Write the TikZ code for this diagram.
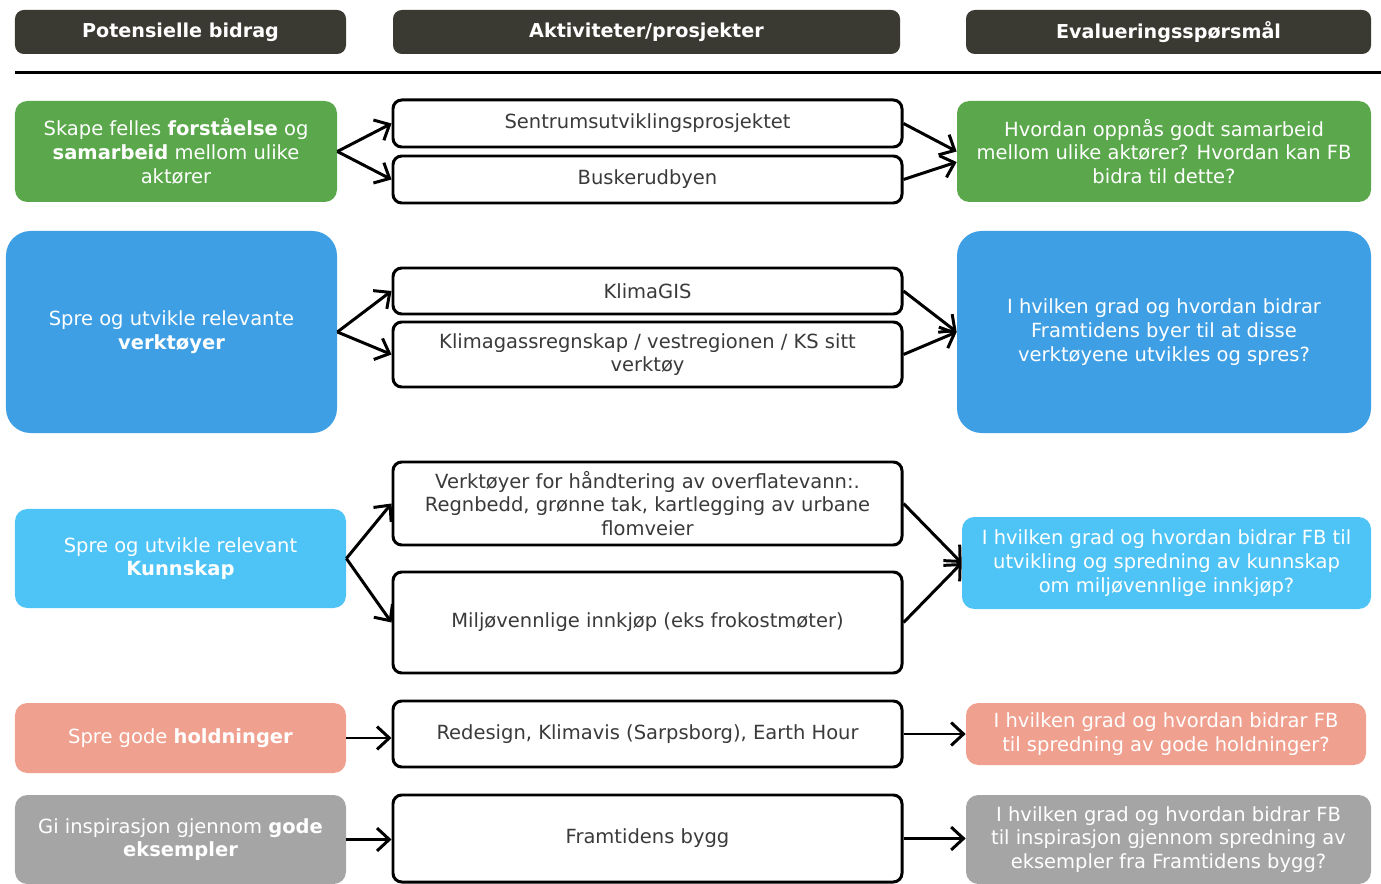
\documentclass[tikz,border=0pt]{standalone}
\usepackage{fontspec}
\setmainfont{DejaVu Sans}
\usetikzlibrary{arrows.meta}
\definecolor{hdr}{HTML}{3B3A32}
\definecolor{cgreen}{HTML}{5AA84B}
\definecolor{cblue}{HTML}{3E9FE4}
\definecolor{clblue}{HTML}{4EC3F6}
\definecolor{csalmon}{HTML}{F0A08F}
\definecolor{cgray}{HTML}{A5A5A5}
\definecolor{mtext}{HTML}{3A3A3A}
\newcommand\bx[7]{%
  \pgfmathsetmacro\bxcx{(#2+#4)/2}\pgfmathsetmacro\bxcy{(#3+#5)/2}%
  \pgfmathsetmacro\bxw{(#4-#2)*0.02}\pgfmathsetmacro\bxh{(#5-#3)*0.02}%
  \node[#6,minimum width=\bxw cm,minimum height=\bxh cm] (#1) at (\bxcx,\bxcy) {#7};}
\begin{document}
\begin{tikzpicture}[x=0.02cm,y=-0.02cm,
  font=\fontsize{11.1}{13.5}\selectfont,
  hdrbox/.style={fill=hdr, rounded corners=5pt, text=white, font=\fontsize{10.9}{12}\selectfont\bfseries, inner sep=0pt},
  cbox/.style={rounded corners=7pt, text=white, align=center, inner sep=0pt},
  mbox/.style={draw=black, line width=1.7pt, rounded corners=5pt, fill=white, text=mtext, align=center, inner sep=0pt},
  arr/.style={line width=1.7pt, -{Straight Barb[length=7pt,width=13pt]}},
  rule/.style={line width=1.7pt}
]
\useasboundingbox (0,0) rectangle (1381,884);
% headers
\bx{h1}{15}{10}{346}{54}{hdrbox}{Potensielle bidrag}
\bx{h2}{393}{10}{900}{54}{hdrbox}{Aktiviteter/prosjekter}
\bx{h3}{966}{10}{1371}{54}{hdrbox}{Evalueringsspørsmål}
\coordinate (ra) at (15,73);
\coordinate (rb) at (1381,73);
\draw[rule] (ra) -- (rb);
% row 1
\bx{l1}{15}{101}{337}{202}{cbox,fill=cgreen}{Skape felles \textbf{forståelse} og\\\textbf{samarbeid} mellom ulike\\aktører}
\bx{m1a}{393}{100}{902}{147}{mbox}{Sentrumsutviklingsprosjektet}
\bx{m1b}{393}{156}{902}{203}{mbox}{Buskerudbyen}
\bx{r1}{957}{101}{1371}{202}{cbox,fill=cgreen}{Hvordan oppnås godt samarbeid\\mellom ulike aktører? Hvordan kan FB\\bidra til dette?}
% row 2
\bx{l2}{6}{231}{337}{433}{cbox,fill=cblue,rounded corners=14pt}{Spre og utvikle relevante\\\textbf{verktøyer}}
\bx{m2a}{393}{268}{902}{314}{mbox}{KlimaGIS}
\bx{m2b}{393}{322}{902}{387}{mbox}{Klimagassregnskap / vestregionen / KS sitt\\verktøy}
\bx{r2}{957}{231}{1371}{433}{cbox,fill=cblue,rounded corners=14pt}{I hvilken grad og hvordan bidrar\\Framtidens byer til at disse\\verktøyene utvikles og spres?}
% row 3
\bx{l3}{15}{509}{346}{608}{cbox,fill=clblue}{Spre og utvikle relevant\\\textbf{Kunnskap}}
\bx{m3a}{393}{462}{902}{545}{mbox}{Verktøyer for håndtering av overflatevann:.\\Regnbedd, grønne tak, kartlegging av urbane\\flomveier}
\bx{m3b}{393}{572}{902}{673}{mbox}{Miljøvennlige innkjøp (eks frokostmøter)}
\bx{r3}{962}{517}{1371}{609}{cbox,fill=clblue}{I hvilken grad og hvordan bidrar FB til\\utvikling og spredning av kunnskap\\om miljøvennlige innkjøp?}
% row 4
\bx{l4}{15}{703}{346}{773}{cbox,fill=csalmon}{Spre gode \textbf{holdninger}}
\bx{m4}{393}{701}{902}{767}{mbox}{Redesign, Klimavis (Sarpsborg), Earth Hour}
\bx{r4}{966}{703}{1366}{765}{cbox,fill=csalmon}{I hvilken grad og hvordan bidrar FB\\til spredning av gode holdninger?}
% row 5
\bx{l5}{15}{795}{346}{884}{cbox,fill=cgray}{Gi inspirasjon gjennom \textbf{gode}\\\textbf{eksempler}}
\bx{m5}{393}{795}{902}{882}{mbox}{Framtidens bygg}
\bx{r5}{966}{795}{1371}{884}{cbox,fill=cgray}{I hvilken grad og hvordan bidrar FB\\til inspirasjon gjennom spredning av\\eksempler fra Framtidens bygg?}
% arrows
\draw[arr] (l1.east) -- (m1a.west);
\draw[arr] (l1.east) -- (m1b.west);
\draw[arr] (m1a.east) -- (r1.west);
\draw[arr] (m1b.east) -- ([yshift=-6pt]r1.west);
\draw[arr] (l2.east) -- (m2a.west);
\draw[arr] (l2.east) -- (m2b.west);
\draw[arr] (m2a.east) -- (r2.west);
\draw[arr] (m2b.east) -- (r2.west);
\draw[arr] (l3.east) -- (m3a.west);
\draw[arr] (l3.east) -- (m3b.west);
\draw[arr] (m3a.east) -- (r3.west);
\draw[arr] (m3b.east) -- (r3.west);
\draw[arr] (l4.east) -- (l4.east -| m4.west);
\draw[arr] (m4.east) -- (m4.east -| r4.west);
\draw[arr] (l5.east) -- (l5.east -| m5.west);
\draw[arr] (m5.east) -- (m5.east -| r5.west);
\end{tikzpicture}
\end{document}
